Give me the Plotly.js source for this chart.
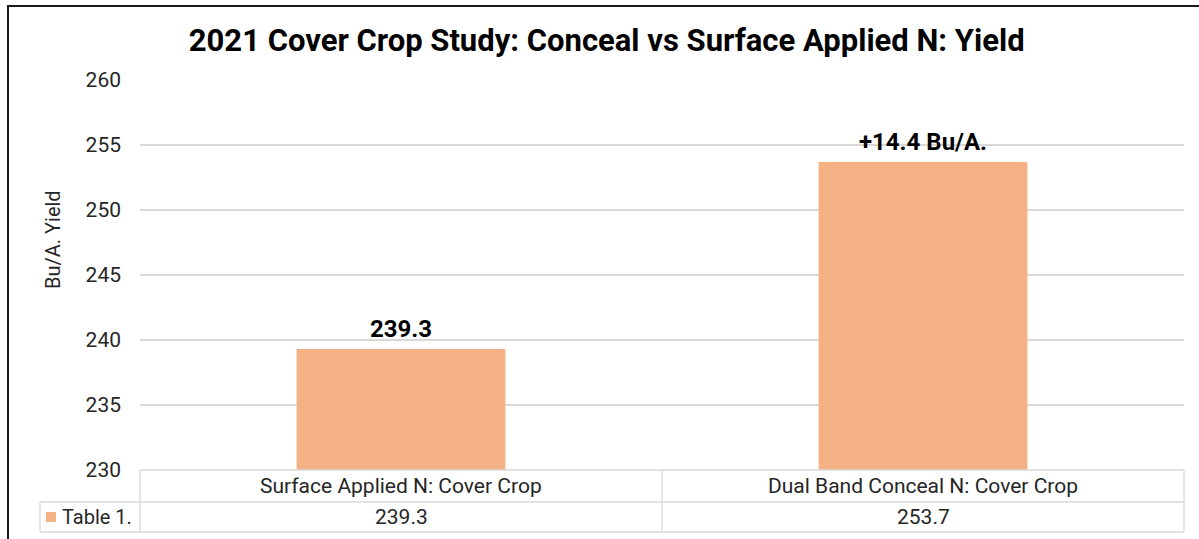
<!DOCTYPE html>
<html>
<head>
<meta charset="utf-8">
<script src="https://cdn.plot.ly/plotly-3.0.1.min.js"></script>
<style>html,body{margin:0;padding:0;background:#fff;}#chart{width:1199px;height:539px;}</style>
</head>
<body>
<div id="chart"></div>
<script>
const categories = ["Surface Applied N: Cover Crop", "Dual Band Conceal N: Cover Crop"];
const yields = [239.3, 253.7];
const barLabels = ["239.3", "+14.4 Bu/A."];
const tableValues = ["239.3", "253.7"];
const seriesName = "Table 1.";
const yTitle = "Bu/A. Yield";
const yTicks = [230, 235, 240, 245, 250, 255, 260];

const barColor = "#F4B183";
const gridColor = "#d9d9d9";
const txt = "#262626";

// plot area: x 140..1184 px, y 80..470 px
const W = 1199, H = 539, L = 140, R = 15, T = 80, B = 69;
const pw = W - L - R, ph = H - T - B;
const px2x = p => (p - L) / pw;
const py2y = p => 1 - (p - T) / ph;

const shapes = [];
const annotations = [];

// outer frame (left + top visible)
shapes.push({type:"line", xref:"paper", yref:"paper", x0:px2x(8), x1:px2x(8), y0:py2y(6), y1:py2y(545), line:{color:"#1a1a1a", width:2}});
shapes.push({type:"line", xref:"paper", yref:"paper", x0:px2x(7), x1:px2x(1205), y0:py2y(6), y1:py2y(6), line:{color:"#1a1a1a", width:2}});

// data table grid
const tl = {color:gridColor, width:1.3};
const rowTop = py2y(470), rowMid = py2y(502), rowBot = py2y(532);
shapes.push({type:"line", xref:"paper", yref:"paper", x0:0, x1:1, y0:rowTop, y1:rowTop, line:tl});
shapes.push({type:"line", xref:"paper", yref:"paper", x0:px2x(40), x1:1, y0:rowMid, y1:rowMid, line:tl});
shapes.push({type:"line", xref:"paper", yref:"paper", x0:px2x(40), x1:1, y0:rowBot, y1:rowBot, line:tl});
shapes.push({type:"line", xref:"paper", yref:"paper", x0:px2x(40), x1:px2x(40), y0:rowMid, y1:rowBot, line:tl});
[0, 0.5, 1].forEach(x => shapes.push({type:"line", xref:"paper", yref:"paper", x0:x, x1:x, y0:rowTop, y1:rowBot, line:tl}));
// legend key square
shapes.push({type:"rect", xref:"paper", yref:"paper", x0:px2x(46), x1:px2x(56), y0:py2y(522), y1:py2y(512), fillcolor:barColor, line:{width:0}});

annotations.push({xref:"paper", yref:"paper", x:px2x(60), y:(rowMid+rowBot)/2, xanchor:"left", yanchor:"middle", text:seriesName, showarrow:false, font:{family:"Roboto", size:20, color:txt}});

// y-axis title
annotations.push({xref:"paper", yref:"paper", x:px2x(53), y:py2y(240), xanchor:"center", yanchor:"middle", textangle:-90, text:yTitle, showarrow:false, font:{family:"Roboto", size:20, color:txt}});

categories.forEach((c, i) => {
  annotations.push({xref:"x", yref:"paper", x:c, y:(rowTop+rowMid)/2, yanchor:"middle", text:c, showarrow:false, font:{family:"Roboto", size:21, color:txt}});
  annotations.push({xref:"x", yref:"paper", x:c, y:(rowMid+rowBot)/2, yanchor:"middle", text:tableValues[i], showarrow:false, font:{family:"Roboto", size:21, color:txt}});
  annotations.push({xref:"x", yref:"y", x:c, y:yields[i], yanchor:"bottom", yshift:4, text:"<b>"+barLabels[i]+"</b>", showarrow:false, font:{family:"Roboto", size:24, color:"#000"}});
});

const data = [{
  type:"bar", x:categories, y:yields, name:seriesName,
  marker:{color:barColor}, width:0.4, hoverinfo:"x+y"
}];

const layout = {
  width:W, height:H,
  margin:{l:L, r:R, t:T, b:B, pad:0},
  paper_bgcolor:"#fff", plot_bgcolor:"#fff",
  showlegend:false,
  title:{text:"<b>2021 Cover Crop Study: Conceal vs Surface Applied N: Yield</b>", x:0.506, xanchor:"center", y:0.925, yanchor:"middle", font:{family:"Roboto", size:31, color:"#000"}},
  xaxis:{type:"category", showticklabels:false, showgrid:false, zeroline:false, showline:false, fixedrange:true},
  yaxis:{range:[230, 260], tickvals:yTicks, ticktext:yTicks.map(String), showgrid:true, gridcolor:gridColor, gridwidth:1.3, zeroline:false, showline:false,
    tickfont:{family:"Roboto", size:21, color:"#262626"}, ticklabelstandoff:18},
  shapes:shapes, annotations:annotations
};

Plotly.newPlot("chart", data, layout, {displayModeBar:false, staticPlot:true});
</script>
</body>
</html>
